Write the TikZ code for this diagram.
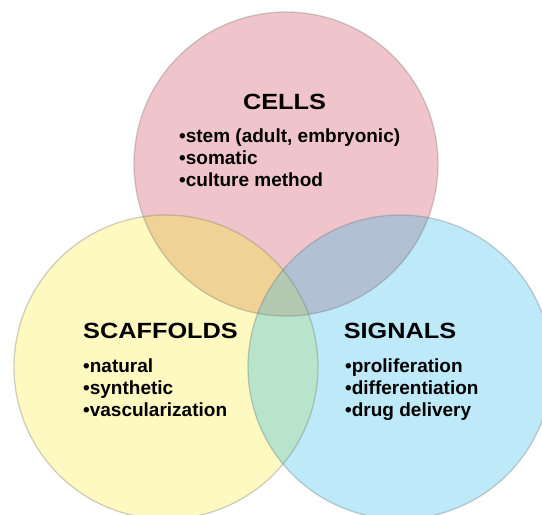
\documentclass[tikz,border=0pt]{standalone}
\usepackage{fontspec}
\setmainfont{Liberation Sans}
\newfontfamily\titlefont[FakeStretch=1.15]{Liberation Sans}
\definecolor{cellspink}{HTML}{EFC5CB}
\definecolor{scafyellow}{HTML}{FEF8C1}
\definecolor{signblue}{HTML}{BDE9F9}
\definecolor{pinkyellow}{HTML}{F0D296}
\definecolor{pinkblue}{HTML}{B2C0D3}
\definecolor{yellowblue}{HTML}{B8E4CB}
\definecolor{allthree}{HTML}{B3C9B2}

\begin{document}
\begin{tikzpicture}[line cap=round,line join=round,x=1pt,y=-1pt,
  ring/.style={draw=black!60,draw opacity=0.3,line width=1.3pt},
  heading/.style={anchor=base,inner sep=0pt,font=\titlefont\bfseries\fontsize{22}{26}\selectfont},
  item/.style={anchor=base west,inner sep=0pt,font=\bfseries\fontsize{19}{22}\selectfont}]
\useasboundingbox (0,0) rectangle (542,515);
\clip (0,0) rectangle (542,515);
\coordinate (cellsc) at (286,164);
\coordinate (scafc) at (166,367);
\coordinate (signc) at (400,367);
\fill[cellspink] (cellsc) circle[radius=152pt];
\fill[scafyellow] (scafc) circle[radius=152pt];
\fill[signblue] (signc) circle[radius=152pt];
\begin{scope}
\clip (cellsc) circle[radius=152pt];
\fill[pinkyellow] (scafc) circle[radius=152pt];
\fill[pinkblue] (signc) circle[radius=152pt];
\end{scope}
\begin{scope}
\clip (scafc) circle[radius=152pt];
\fill[yellowblue] (signc) circle[radius=152pt];
\clip (signc) circle[radius=152pt];
\fill[allthree] (cellsc) circle[radius=152pt];
\end{scope}
\draw[ring] (cellsc) circle[radius=152pt];
\draw[ring] (scafc) circle[radius=152pt];
\draw[ring] (signc) circle[radius=152pt];
\node[heading] (cellstitle) at (284.5,109) {CELLS};
\node[item] (cellsa) at (179,142.5) {•stem (adult, embryonic)};
\node[item] (cellsb) at (179,164.5) {•somatic};
\node[item] (cellsd) at (179,186.5) {•culture method};
\node[heading] (scaftitle) at (160.5,338) {SCAFFOLDS};
\node[item] (scafa) at (83,372) {•natural};
\node[item] (scafb) at (83,394) {•synthetic};
\node[item] (scafd) at (83,416.5) {•vascularization};
\node[heading] (signtitle) at (400,338) {SIGNALS};
\node[item] (signa) at (345,372) {•proliferation};
\node[item] (signb) at (345,394) {•differentiation};
\node[item] (signd) at (345,416.5) {•drug delivery};
\end{tikzpicture}
\end{document}
